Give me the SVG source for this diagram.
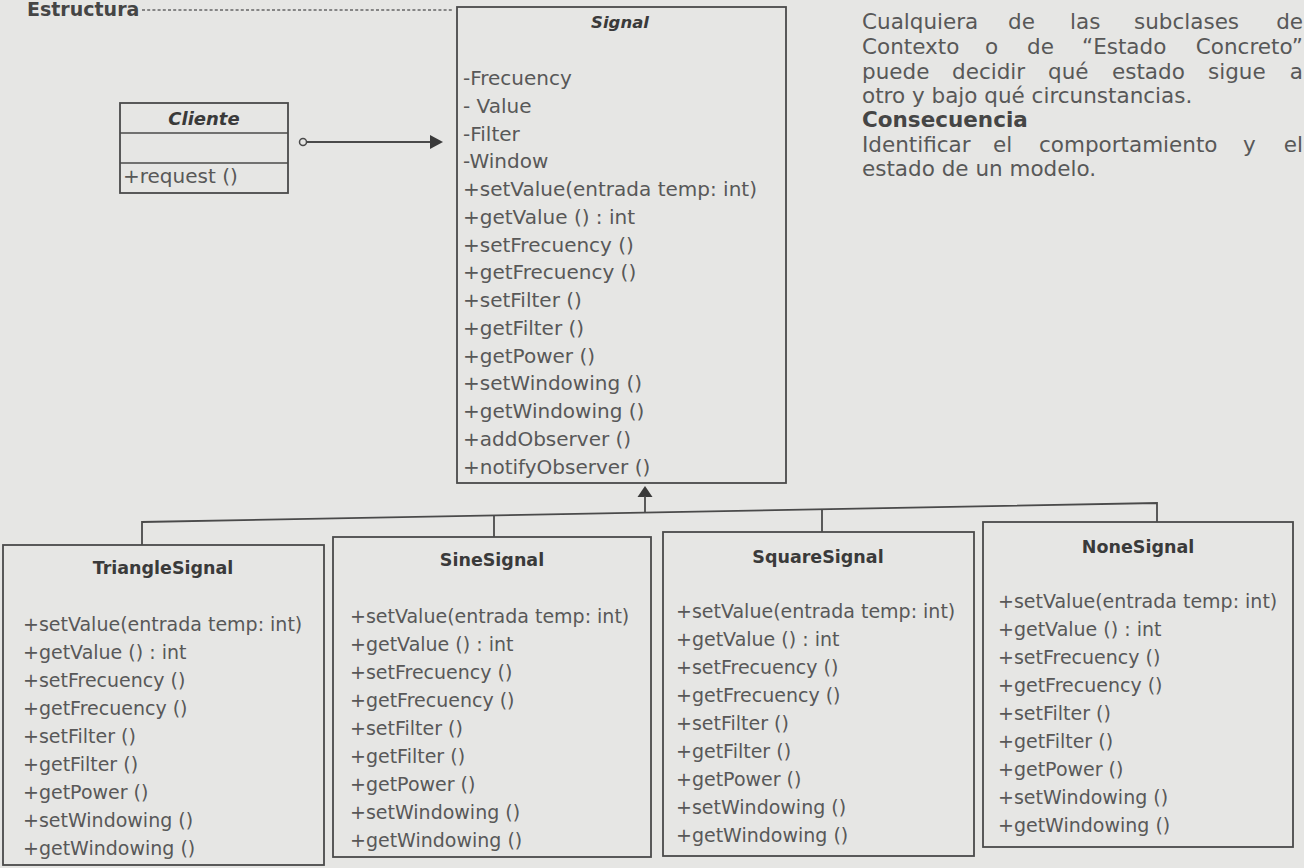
<svg xmlns="http://www.w3.org/2000/svg" width="1304" height="868" viewBox="0 0 1304 868">
  <style>
    .bg { fill: #e6e6e4; }
    .box { fill: none; stroke: #4a4a4a; stroke-width: 1.8; }
    .sep { stroke: #4a4a4a; stroke-width: 1.5; }
    .wire { fill: none; stroke: #4a4a4a; stroke-width: 1.8; }
    .head { fill: #3a3a3a; stroke: none; }
    .txt { font-family: "DejaVu Sans", "Liberation Sans", sans-serif; fill: #585858; }
    .m19 { font-size: 19px; }
    .m20 { font-size: 20px; }
    .title { font-family: "DejaVu Sans", "Liberation Sans", sans-serif; font-weight: bold; fill: #3a3a3a; text-anchor: middle; }
    .abs { font-style: italic; }
    .para { font-family: "DejaVu Sans", "Liberation Sans", sans-serif; font-size: 21.5px; fill: #585858; }
    .heading { font-family: "DejaVu Sans", "Liberation Sans", sans-serif; font-weight: bold; fill: #454545; }
  </style>

  <rect class="bg" x="0" y="0" width="1304" height="868"/>

  <!-- section heading with dotted leader -->
  <g id="heading">
    <text class="heading" x="27" y="16" font-size="19">Estructura</text>
    <line x1="142" y1="10" x2="452" y2="10" stroke="#666" stroke-width="1.5" stroke-dasharray="3 2.2"/>
  </g>

  <!-- explanatory paragraph, justified word by word -->
  <g id="paragraph" class="para">
    <text y="29"><tspan x="862">Cualquiera</tspan><tspan x="1008">de</tspan><tspan x="1070">las</tspan><tspan x="1134">subclases</tspan><tspan x="1303" text-anchor="end">de</tspan></text>
    <text y="54"><tspan x="862">Contexto</tspan><tspan x="985">o</tspan><tspan x="1027">de</tspan><tspan x="1082">“Estado</tspan><tspan x="1303" text-anchor="end">Concreto”</tspan></text>
    <text y="79"><tspan x="862">puede</tspan><tspan x="952">decidir</tspan><tspan x="1048">qué</tspan><tspan x="1112">estado</tspan><tspan x="1208">sigue</tspan><tspan x="1303" text-anchor="end">a</tspan></text>
    <text x="862" y="103">otro y bajo qué circunstancias.</text>
    <text x="862" y="127" font-weight="bold" fill="#454545">Consecuencia</text>
    <text y="152"><tspan x="862">Identificar</tspan><tspan x="993">el</tspan><tspan x="1039">comportamiento</tspan><tspan x="1243">y</tspan><tspan x="1303" text-anchor="end">el</tspan></text>
    <text x="862" y="176">estado de un modelo.</text>
  </g>

  <!-- client class -->
  <g id="cliente">
    <rect class="box" x="120" y="103" width="168" height="90"/>
    <line class="sep" x1="120" y1="133" x2="288" y2="133"/>
    <line class="sep" x1="120" y1="163" x2="288" y2="163"/>
    <text class="title abs" x="204" y="125" font-size="18">Cliente</text>
    <text class="txt m20" x="123" y="183">+request ()</text>
  </g>

  <!-- abstract Signal class -->
  <g id="signal">
    <rect class="box" x="457" y="7" width="329" height="476"/>
    <text class="title abs" x="620" y="28" font-size="16.5">Signal</text>
    <g class="txt m20">
      <text x="463" y="85">-Frecuency</text>
      <text x="463" y="113">- Value</text>
      <text x="463" y="141">-Filter</text>
      <text x="463" y="168">-Window</text>
      <text x="463" y="196">+setValue(entrada temp: int)</text>
      <text x="463" y="224">+getValue () : int</text>
      <text x="463" y="252">+setFrecuency ()</text>
      <text x="463" y="279">+getFrecuency ()</text>
      <text x="463" y="307">+setFilter ()</text>
      <text x="463" y="335">+getFilter ()</text>
      <text x="463" y="363">+getPower ()</text>
      <text x="463" y="390">+setWindowing ()</text>
      <text x="463" y="418">+getWindowing ()</text>
      <text x="463" y="446">+addObserver ()</text>
      <text x="463" y="474">+notifyObserver ()</text>
    </g>
  </g>

  <!-- concrete subclasses -->
  <g id="triangle-signal">
    <rect class="box" x="3" y="545" width="321" height="320"/>
    <text class="title" x="163" y="574" font-size="17.5">TriangleSignal</text>
    <g class="txt m19">
      <text x="23" y="631">+setValue(entrada temp: int)</text>
      <text x="23" y="659">+getValue () : int</text>
      <text x="23" y="687">+setFrecuency ()</text>
      <text x="23" y="715">+getFrecuency ()</text>
      <text x="23" y="743">+setFilter ()</text>
      <text x="23" y="771">+getFilter ()</text>
      <text x="23" y="799">+getPower ()</text>
      <text x="23" y="827">+setWindowing ()</text>
      <text x="23" y="855">+getWindowing ()</text>
    </g>
  </g>

  <g id="sine-signal">
    <rect class="box" x="333" y="537" width="318" height="320"/>
    <text class="title" x="492" y="566" font-size="17.5">SineSignal</text>
    <g class="txt m19">
      <text x="350" y="623">+setValue(entrada temp: int)</text>
      <text x="350" y="651">+getValue () : int</text>
      <text x="350" y="679">+setFrecuency ()</text>
      <text x="350" y="707">+getFrecuency ()</text>
      <text x="350" y="735">+setFilter ()</text>
      <text x="350" y="763">+getFilter ()</text>
      <text x="350" y="791">+getPower ()</text>
      <text x="350" y="819">+setWindowing ()</text>
      <text x="350" y="847">+getWindowing ()</text>
    </g>
  </g>

  <g id="square-signal">
    <rect class="box" x="663" y="532" width="311" height="324"/>
    <text class="title" x="818" y="563" font-size="17.5">SquareSignal</text>
    <g class="txt m19">
      <text x="676" y="618">+setValue(entrada temp: int)</text>
      <text x="676" y="646">+getValue () : int</text>
      <text x="676" y="674">+setFrecuency ()</text>
      <text x="676" y="702">+getFrecuency ()</text>
      <text x="676" y="730">+setFilter ()</text>
      <text x="676" y="758">+getFilter ()</text>
      <text x="676" y="786">+getPower ()</text>
      <text x="676" y="814">+setWindowing ()</text>
      <text x="676" y="842">+getWindowing ()</text>
    </g>
  </g>

  <g id="none-signal">
    <rect class="box" x="983" y="522" width="310" height="325"/>
    <text class="title" x="1138" y="553" font-size="17.5">NoneSignal</text>
    <g class="txt m19">
      <text x="998" y="608">+setValue(entrada temp: int)</text>
      <text x="998" y="636">+getValue () : int</text>
      <text x="998" y="664">+setFrecuency ()</text>
      <text x="998" y="692">+getFrecuency ()</text>
      <text x="998" y="720">+setFilter ()</text>
      <text x="998" y="748">+getFilter ()</text>
      <text x="998" y="776">+getPower ()</text>
      <text x="998" y="804">+setWindowing ()</text>
      <text x="998" y="832">+getWindowing ()</text>
    </g>
  </g>

  <!-- connectors -->
  <g id="connectors">
    <!-- association Cliente -> Signal -->
    <circle cx="303" cy="142" r="3.5" fill="#e6e6e4" stroke="#4a4a4a" stroke-width="1.5"/>
    <line class="wire" x1="306.5" y1="142" x2="433" y2="142"/>
    <polygon class="head" points="430,135 443,142 430,149"/>
    <!-- generalization tree -->
    <polygon class="head" points="645,486 637.5,497 652.5,497"/>
    <line class="wire" x1="645" y1="496" x2="645" y2="512.6"/>
    <polyline class="wire" points="142,545 142,522 1157,503 1157,522"/>
    <line class="wire" x1="494" y1="515.4" x2="494" y2="537"/>
    <line class="wire" x1="822" y1="509.3" x2="822" y2="532"/>
  </g>
</svg>
